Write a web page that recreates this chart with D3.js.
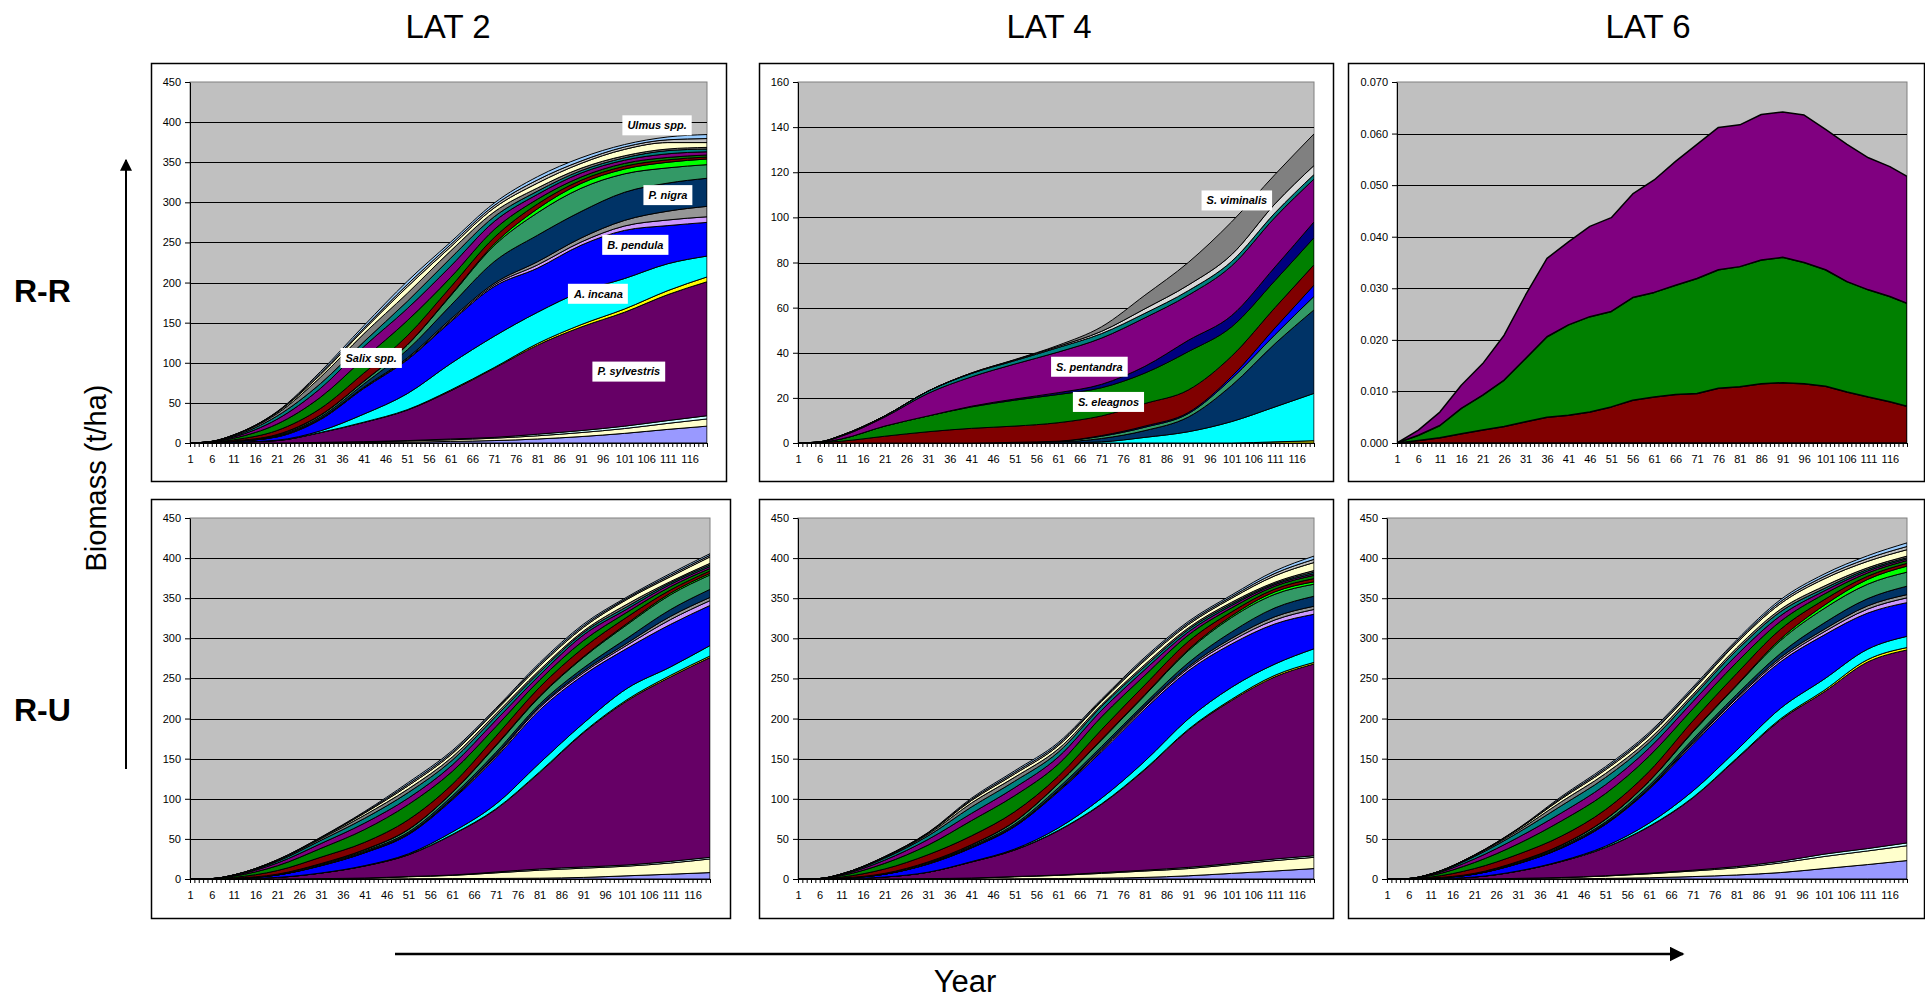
<!DOCTYPE html>
<html>
<head>
<meta charset="utf-8">
<script src="https://cdn.jsdelivr.net/npm/d3@7"></script>
<style>
  body { margin: 0; background: #fff; }
  svg text { font-family: "Liberation Sans", Arial, sans-serif; }
</style>
</head>
<body>
<svg id="chart" width="1925" height="998"></svg>
<script>
"use strict";

// ---- data ----
// sampled years (every 10 years, plus year 6)
const years = [1, 6, 11, 21, 31, 41, 51, 61, 71, 81, 91, 101, 111, 120];
const yearsLat6 = [1, 6, 11, 16, 21, 26, 31, 36, 41, 46, 51, 56, 61, 66, 71, 76, 81, 86, 91, 96, 101, 106, 111, 116, 120];
const tickYears = d3.range(1, 121);
const labelYears = [1, 6, 11, 16, 21, 26, 31, 36, 41, 46, 51, 56, 61, 66, 71, 76, 81, 86, 91, 96, 101, 106, 111, 116];

const yTicks450 = [0, 50, 100, 150, 200, 250, 300, 350, 400, 450];
const yTicks160 = [0, 20, 40, 60, 80, 100, 120, 140, 160];
const yTicksLat6 = [0, 0.01, 0.02, 0.03, 0.04, 0.05, 0.06, 0.07];

const titles = ["LAT 2", "LAT 4", "LAT 6"];
const rowLabels = ["R-R", "R-U"];

// species of the 450 t/ha panels, bottom to top
const species450 = ["sp-a", "sp-b", "sp-c", "P. sylvestris", "sp-e", "A. incana", "B. pendula", "sp-h",
  "sp-i", "P. nigra", "sp-k", "sp-l", "sp-m", "Salix spp.", "sp-o", "sp-p", "sp-q", "sp-r", "sp-s", "Ulmus spp."];
const colors450 = ["#9999FF", "#FFFFCC", "#CCFFFF", "#660066", "#FFFF00", "#00FFFF", "#0000FF", "#CC99FF",
  "#969696", "#003366", "#339966", "#00FF00", "#800000", "#008000", "#800080", "#008080", "#808080", "#FFFFCC", "#C0C0C0", "#99CCFF"];

// R-R, LAT 2 (one row per species, one value per sampled year)
const rrLat2 = [
  [0, 0, 0, 0, 0.3, 0.5, 1, 2, 3, 5, 8, 12, 17, 21],
  [0, 0, 0, 0, 0.3, 0.8, 1.5, 2, 3, 4, 5, 6, 7.5, 9],
  [0, 0, 0, 0, 0.2, 0.3, 0.5, 1, 1, 2, 2.5, 3, 3.5, 4],
  [0, 0.2, 1, 3, 12, 24, 38, 60, 86, 111, 129, 142, 157, 167],
  [0, 0, 0, 0, 0.3, 0.4, 0.5, 1, 1, 2, 3, 4, 5, 6],
  [0, 0, 0, 0.5, 2, 10, 20, 33, 39, 39, 41, 38, 33.5, 26],
  [0, 0.2, 1, 4, 14, 32, 42, 52, 62, 55, 58, 60, 47.5, 42],
  [0, 0, 0, 0.3, 0.5, 0.6, 1, 1.5, 2, 4, 4, 5.5, 7, 7],
  [0, 0, 0, 0.5, 0.8, 1, 1.5, 2, 2, 4, 5, 7, 11, 13],
  [0, 0.05, 0.3, 1, 2, 4, 10, 17, 27, 33, 33, 35, 35, 35],
  [0, 0.05, 0.3, 1, 2, 3, 6, 12, 20, 28, 29, 23, 19, 17],
  [0, 0, 0, 0.2, 0.5, 0.5, 0.5, 1, 2, 5, 6, 6, 7, 7],
  [0, 0.3, 1.3, 5, 8, 10, 11, 10, 8, 6, 4, 3.5, 3, 2.5],
  [0, 0.4, 2, 8, 14, 18, 19, 12, 10, 6, 4, 3.5, 3, 2.5],
  [0, 0.3, 1.5, 6, 11, 15, 15, 14, 10, 6, 5, 4, 4.5, 4],
  [0, 0.2, 1, 4, 6, 6, 9, 10, 6, 4, 3, 3, 4, 3.5],
  [0, 0.2, 1, 3, 8, 10, 10, 9, 6, 4, 3, 2.5, 2, 2],
  [0, 0.1, 0.3, 1.5, 3, 5, 8, 5, 5, 6, 6, 8, 8, 6],
  [0, 0, 0.2, 0.5, 2, 2, 3, 3, 3, 4, 3, 3, 3.5, 5],
  [0, 0, 0.1, 0.5, 2, 3, 4, 3, 3, 4, 4, 3, 3.5, 5]
];

// R-U, LAT 2
const ruLat2 = [
  [0, 0, 0, 0, 0, 0, 0.3, 0.5, 0.7, 1, 2, 4, 6, 8],
  [0, 0, 0, 0, 0.5, 1, 2.5, 4, 7, 10, 11.5, 12, 14, 17],
  [0, 0, 0, 0, 0, 0.2, 0.3, 0.5, 1, 1.5, 1.5, 1.5, 2, 2],
  [0, 0.05, 0.3, 2, 7, 15, 27, 50, 78, 120, 167, 204.5, 230, 249],
  [0, 0, 0, 0, 0, 0.2, 0.3, 0.5, 0.7, 1, 1, 1.5, 2, 2],
  [0, 0, 0, 0, 0, 0.3, 1, 3, 6, 11, 11, 14, 10.5, 13],
  [0, 0.05, 0.5, 3, 9, 16, 24, 40, 58, 66, 60, 50, 53, 50],
  [0, 0, 0, 0, 0.3, 0.3, 0.5, 1, 2, 3, 3, 4, 6, 6],
  [0, 0, 0, 0, 0.3, 0.5, 0.7, 1, 1.5, 1.5, 2, 2.5, 4, 4],
  [0, 0, 0.1, 0.5, 1, 1.5, 2, 3, 3, 3, 4, 6, 8.5, 10],
  [0, 0, 0.1, 0.5, 1, 1.5, 3, 4, 8, 9, 13, 17, 18.5, 18],
  [0, 0, 0, 0, 0.2, 0.3, 0.4, 0.5, 1, 1, 1, 1.5, 2, 2],
  [0, 0.1, 1, 4.5, 8, 9, 12, 10, 11, 11, 11, 8, 4, 3],
  [0, 0.15, 1.5, 6, 11, 16, 19, 16, 12, 9, 9, 6, 4, 3],
  [0, 0.1, 0.8, 3.5, 6, 8, 8, 8, 8, 6, 7, 4, 3, 2.5],
  [0, 0.05, 0.4, 2, 4, 6, 7, 6, 5, 4, 3, 3, 2, 2],
  [0, 0, 0.2, 1, 2, 4, 4.5, 4, 3, 2.5, 2, 3, 1.5, 2],
  [0, 0, 0.1, 0.5, 1, 2.5, 4, 4, 4, 5, 4.5, 6, 6, 8],
  [0, 0, 0, 0.3, 0.5, 1, 2, 2, 1.5, 2, 2, 1.5, 2, 2],
  [0, 0, 0, 0.2, 0.5, 1, 2, 2, 1.5, 2, 2, 1.5, 2, 2]
];

// R-U, LAT 4
const ruLat4 = [
  [0, 0, 0, 0, 0, 0, 0.3, 0.5, 1, 2, 4, 7, 10, 13],
  [0, 0, 0, 0, 0.5, 1, 2.5, 4, 6, 8, 9, 11, 13, 14],
  [0, 0, 0, 0, 0, 0.2, 0.3, 0.5, 1, 1, 1.5, 1.5, 2, 2],
  [0, 0.06, 0.4, 2.5, 8, 20, 33, 55, 85, 125, 171, 203, 227, 239],
  [0, 0, 0, 0, 0, 0.2, 0.3, 0.5, 0.7, 1, 1, 1.5, 2, 2],
  [0, 0, 0, 0, 0, 0.3, 1, 3, 7, 10, 13, 15, 14, 17],
  [0, 0.06, 0.6, 3.5, 10, 17, 28, 45, 58, 65, 60, 54, 50, 43],
  [0, 0, 0, 0, 0.3, 0.3, 0.5, 1, 2, 2.5, 3, 4, 5, 6],
  [0, 0, 0, 0, 0.3, 0.5, 0.7, 1, 1.5, 1.5, 2, 3, 4, 4],
  [0, 0, 0.1, 0.5, 1, 1.5, 2, 3, 3, 3, 5, 8, 11, 12.5],
  [0, 0, 0.1, 0.5, 1, 1.5, 3, 5, 8, 10, 15, 18, 17, 15],
  [0, 0, 0, 0, 0.2, 0.3, 0.4, 0.5, 1, 1, 1.5, 2, 3, 3],
  [0, 0.12, 1.2, 5.5, 9, 11, 12, 9, 12, 12, 10, 5, 3.5, 4],
  [0, 0.18, 1.8, 7, 12, 19, 20, 15, 16, 12, 8, 5, 3.5, 4],
  [0, 0.12, 1, 4, 7, 9, 10, 9, 8, 7, 4, 3, 2, 2],
  [0, 0.06, 0.6, 2.5, 4.5, 8, 8, 6, 5, 4, 3, 2, 1.5, 2],
  [0, 0, 0.3, 1, 2, 5, 5, 4, 2, 2.5, 2, 2, 1.5, 2],
  [0, 0, 0.1, 0.5, 1.2, 3, 4, 4, 4, 5, 4, 5, 8, 10],
  [0, 0, 0, 0.3, 0.5, 1.5, 2, 2, 1.5, 2, 2, 2, 3, 4],
  [0, 0, 0, 0.2, 0.5, 1.5, 2, 2, 1.5, 2, 2, 2, 3, 4]
];

// R-U, LAT 6
const ruLat6 = [
  [0, 0, 0, 0, 0, 0.2, 0.7, 1.5, 3, 5, 8, 13, 18, 23],
  [0, 0, 0, 0, 0.7, 1.5, 3, 5, 7, 9, 12, 15, 17, 18.5],
  [0, 0, 0, 0, 0.1, 0.2, 0.4, 0.7, 1, 1.5, 2, 3, 3, 3.5],
  [0, 0.06, 0.4, 2.5, 9, 20, 35, 58, 90, 134, 176, 202, 232.5, 240.5],
  [0, 0, 0, 0, 0, 0.2, 0.3, 0.5, 0.7, 1, 1.5, 2, 3, 3],
  [0, 0, 0, 0, 0.2, 0.5, 1.5, 4, 8, 10, 13, 14, 13, 14],
  [0, 0.06, 0.6, 3.5, 9, 16, 27, 42, 58, 62, 58, 55, 45, 42],
  [0, 0, 0, 0, 0.3, 0.3, 0.5, 1, 2, 2.5, 3, 4, 5, 6],
  [0, 0, 0, 0, 0.3, 0.5, 0.7, 1, 1.5, 1.5, 2.5, 3, 4, 4],
  [0, 0, 0.1, 0.5, 1, 1.5, 2, 3, 3, 3.5, 5, 8, 9, 10.5],
  [0, 0, 0.1, 0.5, 1, 1.5, 3, 5, 9, 11, 16, 18, 18, 17.5],
  [0, 0, 0, 0, 0.2, 0.3, 0.4, 0.5, 1, 1, 2, 4, 6, 7.5],
  [0, 0.12, 1.2, 6, 9, 11, 12, 12, 13, 14, 12, 7, 4, 3.5],
  [0, 0.18, 1.8, 7.5, 13, 19, 20, 19, 15, 14, 10, 7, 4, 3.5],
  [0, 0.12, 1, 4.5, 8, 10, 11, 10, 9, 9, 7, 4, 2.5, 2],
  [0, 0.06, 0.6, 3, 6, 9, 9, 7, 6, 6, 5, 3, 2, 1.5],
  [0, 0, 0.3, 1, 2.5, 5, 5, 4, 3, 3, 3, 3, 2, 2],
  [0, 0, 0.1, 0.5, 1.7, 3.5, 4.5, 4.5, 5, 6, 7, 9, 8, 8],
  [0, 0, 0, 0.3, 0.5, 1.5, 2, 2, 2, 2, 2.5, 3, 3.5, 4],
  [0, 0, 0, 0.2, 0.5, 1.5, 2, 2, 2, 2, 2.5, 3, 3.5, 4.5]
];

// R-R, LAT 4 species, bottom to top
const speciesLat4 = ["sp-1", "sp-2", "sp-3", "sp-4", "sp-5", "sp-6", "S. eleagnos", "sp-8", "S. pentandra", "sp-10", "sp-11", "S. viminalis"];
const colorsLat4 = ["#FFFF00", "#00FFFF", "#003366", "#339966", "#0000FF", "#800000", "#008000", "#000080", "#800080", "#008080", "#D9D9D9", "#808080"];
const rrLat4 = [
  [0, 0, 0, 0, 0, 0, 0, 0, 0, 0, 0, 0, 0.5, 1],
  [0, 0, 0, 0, 0, 0, 0, 0, 0.5, 2.5, 5, 9.5, 15.5, 21],
  [0, 0, 0, 0, 0, 0, 0.3, 0.5, 1.5, 3, 6.5, 16, 28, 37],
  [0, 0, 0, 0, 0, 0, 0, 0.3, 1, 1.5, 1.5, 3, 4, 6],
  [0, 0, 0, 0, 0, 0, 0, 0, 0.3, 0.5, 0.5, 1, 3, 5],
  [0, 0.2, 0.8, 3, 5, 6.5, 7.2, 8.2, 8.7, 10, 10, 9, 9, 9],
  [0, 0.1, 1, 4.5, 7, 9.5, 11.5, 12.5, 12.5, 13.5, 17, 13, 12, 12],
  [0, 0, 0, 0, 0, 0.3, 0.5, 0.8, 1.5, 3, 5, 5, 6, 7],
  [0, 0.1, 1.2, 4, 10, 13, 15.5, 18, 20.5, 21.5, 20, 22, 22, 19],
  [0, 0.1, 0.3, 0.5, 1, 1.5, 1.5, 2, 2, 2, 2, 2, 2, 2],
  [0, 0, 0.1, 0, 0, 0.2, 0.3, 0.5, 1, 2, 2.5, 3, 4, 4],
  [0, 0, 0, 0, 0, 0, 0.2, 0.5, 2, 6, 10, 14.5, 13, 14]
];

// R-R, LAT 6 (every 5 years)
const speciesLat6 = ["sp-x", "sp-y", "sp-z"];
const colorsLat6 = ["#800000", "#008000", "#800080"];
const rrLat6 = [
  [0, 0.0005, 0.0010, 0.0018, 0.0025, 0.0032, 0.0041, 0.0050, 0.0054, 0.0060, 0.0070, 0.0083, 0.0089,
   0.0094, 0.0096, 0.0106, 0.0109, 0.0115, 0.0117, 0.0115, 0.0110, 0.0099, 0.0089, 0.0080, 0.0071],
  [0, 0.0010, 0.0024, 0.0049, 0.0068, 0.0090, 0.0123, 0.0156, 0.0175, 0.0185, 0.0185, 0.0199, 0.0203,
   0.0212, 0.0223, 0.0230, 0.0233, 0.0240, 0.0243, 0.0235, 0.0226, 0.0214, 0.0208, 0.0204, 0.0200],
  [0, 0.0010, 0.0026, 0.0045, 0.0061, 0.0087, 0.0123, 0.0152, 0.0161, 0.0175, 0.0182, 0.0201, 0.0218,
   0.0240, 0.0260, 0.0276, 0.0275, 0.0282, 0.0282, 0.0286, 0.0272, 0.0266, 0.0256, 0.0252, 0.0246]
];

// species labels placed in data coordinates
const labelsLat2 = [
  { text: "Ulmus spp.", year: 108.5, value: 396 },
  { text: "P. nigra", year: 111, value: 309 },
  { text: "B. pendula", year: 103.5, value: 247 },
  { text: "A. incana", year: 95, value: 186 },
  { text: "P. sylvestris", year: 102, value: 89 },
  { text: "Salix spp.", year: 42.7, value: 106 }
];
const labelsLat4 = [
  { text: "S. viminalis", year: 102.2, value: 107.5 },
  { text: "S. pentandra", year: 68.2, value: 33.8 },
  { text: "S. eleagnos", year: 72.6, value: 18.2 }
];

// ---- layout ----
const svg = d3.select("#chart");

const panels = [
  { box: [151, 63, 726, 481], plot: [190, 82, 707, 443], yMax: 450, yTicks: yTicks450, fmt: d3.format("d"),
    years: years, rows: rrLat2, colors: colors450, labels: labelsLat2, curve: d3.curveMonotoneX, sw: 1 },
  { box: [759, 63, 1333, 481], plot: [798, 82, 1314, 443], yMax: 160, yTicks: yTicks160, fmt: d3.format("d"),
    years: years, rows: rrLat4, colors: colorsLat4, labels: labelsLat4, curve: d3.curveMonotoneX, sw: 1 },
  { box: [1348, 63, 1924, 481], plot: [1397, 82, 1907, 443], yMax: 0.07, yTicks: yTicksLat6, fmt: d3.format(".3f"),
    years: yearsLat6, rows: rrLat6, colors: colorsLat6, labels: [], curve: d3.curveLinear, sw: 1.5 },
  { box: [151, 499, 730, 918], plot: [190, 518, 710, 879], yMax: 450, yTicks: yTicks450, fmt: d3.format("d"),
    years: years, rows: ruLat2, colors: colors450, labels: [], curve: d3.curveMonotoneX, sw: 1 },
  { box: [759, 499, 1333, 918], plot: [798, 518, 1314, 879], yMax: 450, yTicks: yTicks450, fmt: d3.format("d"),
    years: years, rows: ruLat4, colors: colors450, labels: [], curve: d3.curveMonotoneX, sw: 1 },
  { box: [1348, 499, 1924, 918], plot: [1387, 518, 1907, 879], yMax: 450, yTicks: yTicks450, fmt: d3.format("d"),
    years: years, rows: ruLat6, colors: colors450, labels: [], curve: d3.curveMonotoneX, sw: 1 }
];

panels.forEach(function (p, pi) {
  let g = svg.append("g").attr("class", "panel");

  // outer frame
  g.append("rect")
    .attr("x", p.box[0] + 0.5).attr("y", p.box[1] + 0.5)
    .attr("width", p.box[2] - p.box[0]).attr("height", p.box[3] - p.box[1])
    .attr("fill", "#fff").attr("stroke", "#000").attr("stroke-width", 1.5);

  let x = d3.scaleLinear().domain([1, 120]).range([p.plot[0], p.plot[2]]);
  let y = d3.scaleLinear().domain([0, p.yMax]).range([p.plot[3], p.plot[1]]);

  // plot area
  g.append("rect")
    .attr("x", p.plot[0]).attr("y", p.plot[1])
    .attr("width", p.plot[2] - p.plot[0]).attr("height", p.plot[3] - p.plot[1])
    .attr("fill", "#C0C0C0").attr("stroke", "#808080").attr("stroke-width", 1);

  // gridlines
  g.append("g").selectAll("line")
    .data(p.yTicks.slice(1, -1))
    .enter().append("line")
    .attr("x1", p.plot[0]).attr("x2", p.plot[2])
    .attr("y1", d => Math.round(y(d)) + 0.5).attr("y2", d => Math.round(y(d)) + 0.5)
    .attr("stroke", "#000").attr("stroke-width", 1);

  // stacked areas
  let table = p.years.map(function (yr, i) {
    return { year: yr, v: p.rows.map(r => r[i]) };
  });
  let stack = d3.stack().keys(d3.range(p.rows.length)).value((d, k) => d.v[k]);
  let area = d3.area()
    .x(d => x(d.data.year))
    .y0(d => y(d[0]))
    .y1(d => y(d[1]))
    .curve(p.curve);

  let clipId = "clip" + pi;
  g.append("clipPath").attr("id", clipId)
    .append("rect")
    .attr("x", p.plot[0]).attr("y", p.plot[1] - 2)
    .attr("width", p.plot[2] - p.plot[0]).attr("height", p.plot[3] - p.plot[1] + 2);

  g.append("g").attr("clip-path", "url(#" + clipId + ")")
    .selectAll("path")
    .data(stack(table))
    .enter().append("path")
    .attr("d", area)
    .attr("fill", (d, i) => p.colors[i])
    .attr("stroke", "#000")
    .attr("stroke-width", p.sw)
    .attr("stroke-linejoin", "round");

  // y axis
  let yAxis = g.append("g")
    .attr("transform", "translate(" + p.plot[0] + ",0)")
    .call(d3.axisLeft(y).tickValues(p.yTicks).tickFormat(p.fmt).tickSize(5).tickSizeOuter(0).tickPadding(4));
  yAxis.selectAll("text").attr("font-size", 11).attr("fill", "#000");
  yAxis.selectAll("line, path").attr("stroke", "#000");

  // x axis: a tick for every year, labels every 5 years
  let xAxis = g.append("g")
    .attr("transform", "translate(0," + p.plot[3] + ")")
    .call(d3.axisBottom(x).tickValues(tickYears)
      .tickFormat(d => labelYears.indexOf(d) >= 0 ? d : "")
      .tickSize(4).tickSizeOuter(0).tickPadding(8));
  xAxis.selectAll("text").attr("font-size", 11).attr("fill", "#000");
  xAxis.selectAll("line, path").attr("stroke", "#000");

  // species labels
  p.labels.forEach(function (l) {
    let lg = g.append("g").attr("transform", "translate(" + x(l.year) + "," + y(l.value) + ")");
    let rect = lg.append("rect").attr("fill", "#fff");
    let t = lg.append("text")
      .attr("text-anchor", "middle")
      .attr("dy", "0.35em")
      .attr("font-size", 11)
      .attr("font-weight", "bold")
      .attr("font-style", "italic")
      .attr("fill", "#000")
      .text(l.text);
    let bb = t.node().getBBox();
    rect.attr("x", bb.x - 5).attr("y", -10).attr("width", bb.width + 10).attr("height", 20);
  });
});

// column titles
const titleX = [448, 1049, 1648];
svg.selectAll(".col-title")
  .data(titles)
  .enter().append("text")
  .attr("class", "col-title")
  .attr("x", (d, i) => titleX[i])
  .attr("y", 38)
  .attr("text-anchor", "middle")
  .attr("font-size", 33)
  .attr("fill", "#000")
  .text(d => d);

// row labels
const rowY = [302, 721];
svg.selectAll(".row-title")
  .data(rowLabels)
  .enter().append("text")
  .attr("class", "row-title")
  .attr("x", 14)
  .attr("y", (d, i) => rowY[i])
  .attr("font-size", 32)
  .attr("font-weight", "bold")
  .attr("fill", "#000")
  .text(d => d);

// arrows
let defs = svg.append("defs");
defs.append("marker")
  .attr("id", "arrow")
  .attr("viewBox", "0 0 10 10")
  .attr("refX", 9).attr("refY", 5)
  .attr("markerWidth", 6).attr("markerHeight", 6)
  .attr("markerUnits", "strokeWidth")
  .attr("orient", "auto")
  .append("path")
  .attr("d", "M0,0 L10,5 L0,10 z")
  .attr("fill", "#000");

svg.append("line")
  .attr("x1", 126).attr("y1", 769).attr("x2", 126).attr("y2", 160)
  .attr("stroke", "#000").attr("stroke-width", 2)
  .attr("marker-end", "url(#arrow)");

svg.append("line")
  .attr("x1", 395).attr("y1", 954).attr("x2", 1683).attr("y2", 954)
  .attr("stroke", "#000").attr("stroke-width", 2.5)
  .attr("marker-end", "url(#arrow)");

// axis titles
svg.append("text")
  .attr("transform", "translate(106,478) rotate(-90)")
  .attr("text-anchor", "middle")
  .attr("font-size", 29)
  .attr("fill", "#000")
  .text("Biomass (t/ha)");

svg.append("text")
  .attr("x", 965).attr("y", 992)
  .attr("text-anchor", "middle")
  .attr("font-size", 31)
  .attr("fill", "#000")
  .text("Year");
</script>
</body>
</html>
